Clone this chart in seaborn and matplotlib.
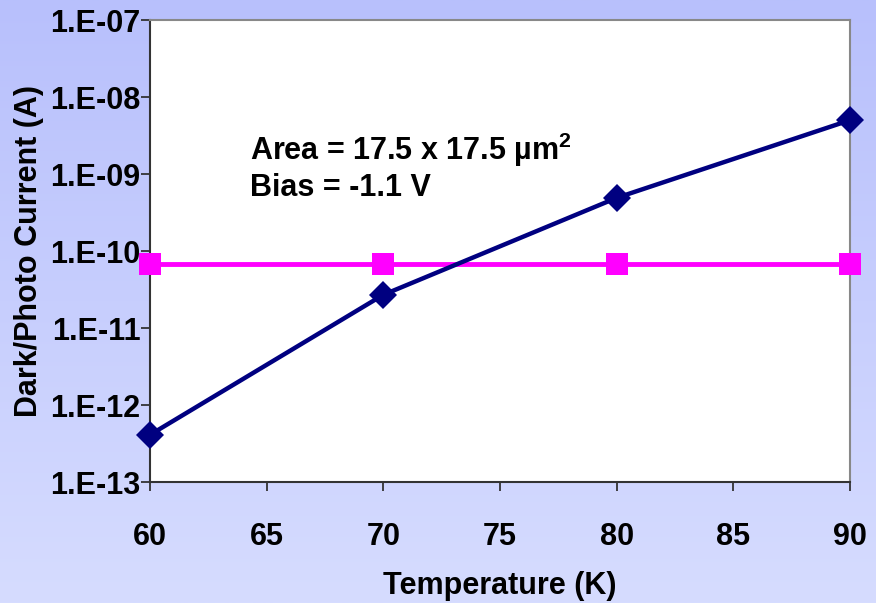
import numpy as np
import pandas as pd
import matplotlib
matplotlib.use("Agg")
import matplotlib.pyplot as plt
import seaborn as sns
from matplotlib.ticker import FixedLocator, FuncFormatter
from matplotlib.colors import LinearSegmentedColormap

temperature = [60, 70, 80, 90]
dark_current = [4.1e-13, 2.7e-11, 4.9e-10, 5.0e-9]
photo_current = [6.8e-11, 6.8e-11, 6.8e-11, 6.8e-11]
y_ticks = [1e-13, 1e-12, 1e-11, 1e-10, 1e-9, 1e-8, 1e-7]
x_ticks = [60, 65, 70, 75, 80, 85, 90]

sns.set_style("white")
plt.rcParams['font.family'] = ['Liberation Sans', 'DejaVu Sans']
plt.rcParams['text.color'] = 'black'
plt.rcParams['axes.labelcolor'] = 'black'
plt.rcParams['xtick.color'] = 'black'
plt.rcParams['ytick.color'] = 'black'
plt.rcParams['mathtext.fontset'] = 'custom'
plt.rcParams['mathtext.rm'] = 'Liberation Sans'
plt.rcParams['mathtext.bf'] = 'Liberation Sans:bold'

FS = 22

fig = plt.figure(figsize=(8.76, 6.03), dpi=100)
bg = fig.add_axes([0, 0, 1, 1], zorder=-10)
grad = np.linspace(0, 1, 256).reshape(-1, 1)
cmap = LinearSegmentedColormap.from_list("bg", ["#B8C0FC", "#D6DCFF"])
bg.imshow(grad, aspect="auto", cmap=cmap, extent=[0, 1, 0, 1], origin="upper")
bg.axis("off")

ax = fig.add_axes([150/876, 1 - 482/603, 700/876, 462/603])
ax.set_facecolor("white")

df_dark = pd.DataFrame({"T": temperature, "I": dark_current})
df_photo = pd.DataFrame({"T": temperature, "I": photo_current})

sns.lineplot(data=df_photo, x="T", y="I", ax=ax, color="#FF00FF", lw=3.5,
             marker="s", markersize=16, markeredgewidth=0, clip_on=False, zorder=3)
sns.lineplot(data=df_dark, x="T", y="I", ax=ax, color="#000080", lw=3.2,
             marker="D", markersize=14, markeredgewidth=0, clip_on=False, zorder=4)

ax.set_yscale("log")
ax.set_xlim(60, 90)
ax.set_ylim(1e-13, 1e-7)
ax.yaxis.set_major_locator(FixedLocator(y_ticks))
ax.yaxis.set_minor_locator(FixedLocator([]))
ax.yaxis.set_major_formatter(FuncFormatter(lambda v, p: "1.E-%02d" % round(-np.log10(v))))
ax.xaxis.set_major_locator(FixedLocator(x_ticks))

ax.tick_params(axis="both", which="major", direction="out", length=6.5, width=1.3,
               color="#333333", labelsize=FS, bottom=True, left=True)
ax.tick_params(axis="y", pad=0.5)
ax.tick_params(axis="x", pad=22)
for lab in ax.get_xticklabels() + ax.get_yticklabels():
    lab.set_fontweight("bold")

for s in ["left", "bottom"]:
    ax.spines[s].set_color("#333333")
    ax.spines[s].set_linewidth(1.5)
for s in ["top", "right"]:
    ax.spines[s].set_color("#888888")
    ax.spines[s].set_linewidth(1.5)

ax.set_xlabel("Temperature (K)", fontsize=FS, fontweight="bold", labelpad=14)
ax.set_ylabel("Dark/Photo Current (A)", fontsize=FS, fontweight="bold", labelpad=4)

ax.text(0.143, 0.7186, "Area = 17.5 x 17.5 \u00b5m$^\\mathbf{2}$", transform=ax.transAxes,
        fontsize=FS, fontweight="bold", va="center")
ax.text(0.143, 0.636, "Bias = -1.1 V", transform=ax.transAxes,
        fontsize=FS, fontweight="bold", va="center")

fig.savefig("out.png", dpi=100)
